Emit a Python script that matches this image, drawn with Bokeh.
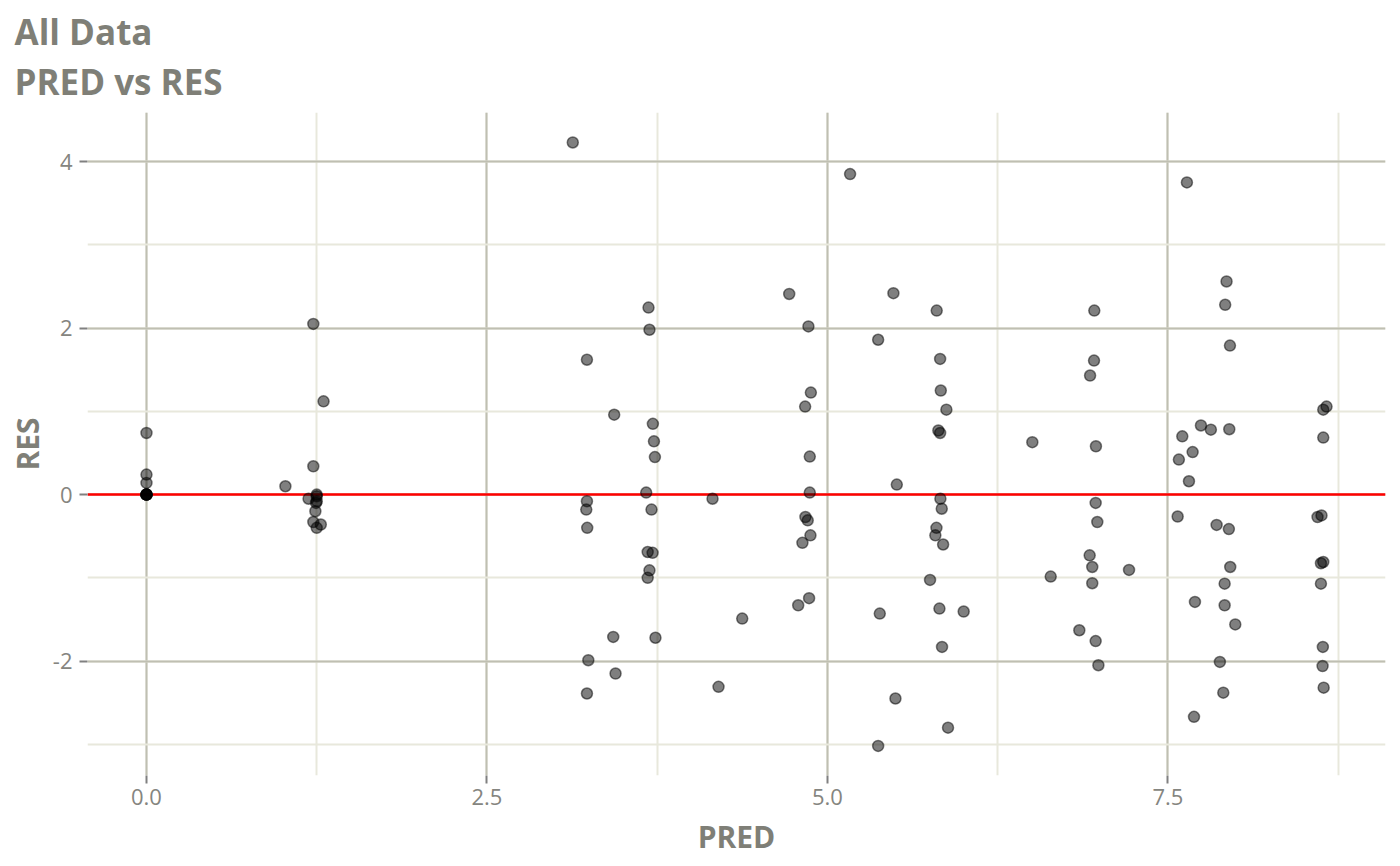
from bokeh.plotting import figure
from bokeh.models import Range1d, Span, Title, SingleIntervalTicker, PrintfTickFormatter
from bokeh.embed import file_html
from bokeh.resources import INLINE

# PRED vs RES values
pred = [
    0, 0, 0, 0, 0, 0, 0, 0, 0,
    1.02, 1.225, 1.30, 1.225, 1.25, 1.19, 1.25, 1.24, 1.225, 1.28, 1.25, 1.25, 1.245,
    3.13, 3.686, 3.693, 3.234, 3.434, 3.718, 3.726, 3.733,
    3.669, 3.234, 3.229, 3.236, 3.708, 3.68, 3.716, 3.693, 3.68, 3.427, 3.737, 3.244, 3.444, 3.234,
    4.156, 4.374, 4.2,
    4.719, 4.86, 4.878, 4.836, 4.87, 4.87, 4.838, 4.855, 4.875, 4.816, 4.865, 4.785,
    5.166, 5.484, 5.802, 5.372, 5.827, 5.832, 5.873, 5.814, 5.827, 5.509,
    5.829, 5.839, 5.80, 5.792, 5.849, 5.753, 5.384, 5.822, 6.0, 5.841, 5.499, 5.885, 5.372,
    6.959, 6.957, 6.928, 6.504, 6.971, 6.969, 6.981, 6.925, 6.944, 6.639, 6.944, 7.214, 6.849, 6.969, 6.989,
    7.639, 7.93, 7.92, 7.955, 7.742, 7.815, 7.95, 7.605, 7.681, 7.58, 7.654,
    7.571, 7.857, 7.947, 7.957, 7.916, 7.698, 7.916, 7.994, 7.881, 7.906, 7.691,
    8.664, 8.64, 8.64, 8.598, 8.627, 8.623, 8.64, 8.623, 8.637, 8.635, 8.643,
]
res = [
    0.74, 0.24, 0.14, 0, 0, 0, 0, 0, 0,
    0.10, 2.05, 1.12, 0.34, 0.0, -0.05, -0.08, -0.20, -0.33, -0.36, -0.40, -0.02, -0.10,
    4.23, 2.246, 1.98, 1.62, 0.96, 0.85, 0.64, 0.45,
    0.024, -0.08, -0.18, -0.40, -0.18, -0.69, -0.70, -0.91, -1.0, -1.71, -1.72, -1.99, -2.15, -2.39,
    -0.05, -1.49, -2.31,
    2.41, 2.02, 1.225, 1.057, 0.456, 0.024, -0.27, -0.31, -0.49, -0.58, -1.245, -1.33,
    3.85, 2.42, 2.21, 1.86, 1.63, 1.25, 1.02, 0.77, 0.74, 0.12,
    -0.05, -0.17, -0.40, -0.49, -0.60, -1.025, -1.43, -1.37, -1.405, -1.83, -2.45, -2.80, -3.02,
    2.21, 1.61, 1.43, 0.63, 0.58, -0.10, -0.33, -0.73, -0.87, -0.985, -1.065, -0.905, -1.63, -1.76, -2.05,
    3.75, 2.56, 2.28, 1.79, 0.83, 0.78, 0.785, 0.70, 0.51, 0.42, 0.16,
    -0.264, -0.365, -0.415, -0.87, -1.07, -1.29, -1.33, -1.56, -2.01, -2.38, -2.67,
    1.057, 1.02, 0.685, -0.27, -0.25, -0.825, -0.81, -1.07, -1.83, -2.06, -2.32,
]

title_text = "All Data"
subtitle_text = "PRED vs RES"
font = "Open Sans"
text_grey = "#7f7f77"

p = figure(
    width=1400, height=866,
    x_range=Range1d(-0.433, 9.097), y_range=Range1d(-3.375, 4.59),
    output_backend="svg", toolbar_location=None,
    min_border_left=87, min_border_right=15, min_border_top=112, min_border_bottom=91,
)
p.outline_line_color = None

# titles: last added sits on top
p.add_layout(Title(text=subtitle_text, align="left", offset=-73, standoff=15, text_font=font,
                   text_font_size="35px", text_font_style="bold", text_color=text_grey), "above")
p.add_layout(Title(text=title_text, align="left", offset=-73, standoff=-13, text_font=font,
                   text_font_size="35px", text_font_style="bold", text_color=text_grey), "above")

p.xaxis.ticker = SingleIntervalTicker(interval=2.5, num_minor_ticks=2)
p.yaxis.ticker = SingleIntervalTicker(interval=2, num_minor_ticks=2)
p.xaxis.formatter = PrintfTickFormatter(format="%.1f")
p.yaxis.formatter = PrintfTickFormatter(format="%d")

for ax in (p.xaxis, p.yaxis):
    ax.axis_line_color = None
    ax.major_tick_in = 0
    ax.major_tick_out = 8
    ax.major_tick_line_color = "#808080"
    ax.major_tick_line_width = 2
    ax.minor_tick_line_color = None
    ax.major_label_text_font = font
    ax.major_label_text_font_size = "22px"
    ax.major_label_text_color = "#858580"
    ax.axis_label_text_font = font
    ax.axis_label_text_font_size = "30px"
    ax.axis_label_text_font_style = "bold"
    ax.axis_label_text_color = text_grey

p.xaxis.major_label_standoff = 5
p.xaxis.axis_label_standoff = 8
p.yaxis.major_label_standoff = 7
p.yaxis.axis_label_standoff = 2

p.xaxis.axis_label = "PRED"
p.yaxis.axis_label = "RES"

p.grid.grid_line_color = "#bfbfb2"
p.grid.grid_line_width = 2
p.grid.minor_grid_line_color = "#e8e8dc"
p.grid.minor_grid_line_width = 2

p.add_layout(Span(location=0, dimension="width", line_color="red", line_width=2.5, level="underlay"))

p.scatter(pred, res, size=11, fill_color="black", fill_alpha=0.5,
          line_color="black", line_alpha=0.5, line_width=1.5)

open("out.html", "w").write(file_html(p, INLINE))
